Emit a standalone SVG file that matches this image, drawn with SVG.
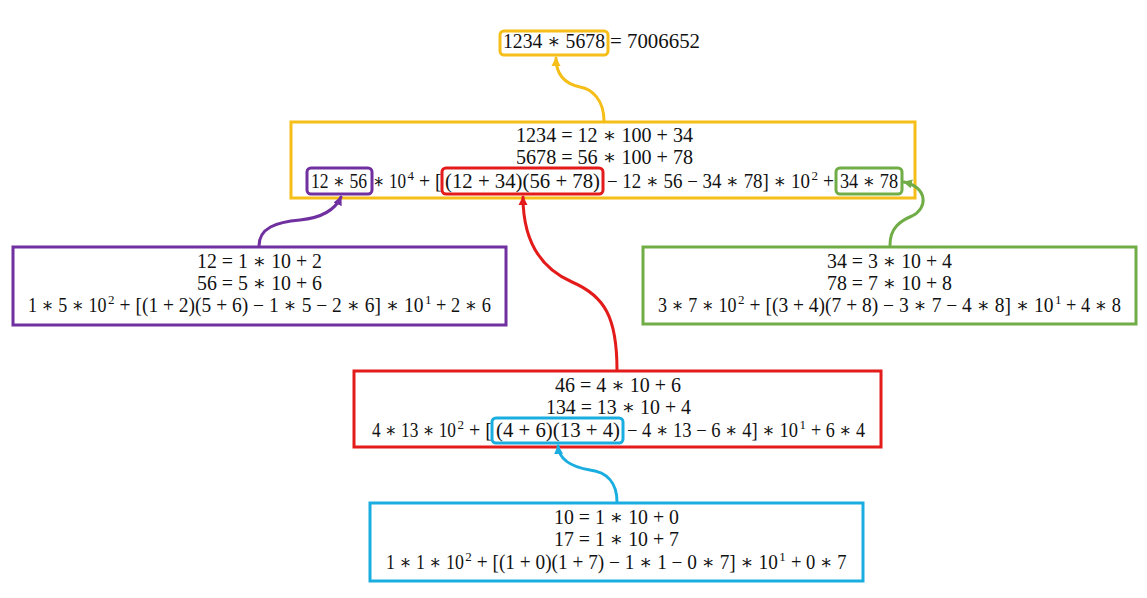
<svg xmlns="http://www.w3.org/2000/svg" width="1147" height="598" viewBox="0 0 1147 598">
<style>
text{font-family:"Liberation Serif","DejaVu Serif",serif;font-size:20px;fill:#111}
text.sup{font-size:13px}
.box{fill:none;stroke-width:3}
.hl{fill:none;stroke-width:3}
.c{fill:none;stroke-width:3;stroke-linecap:round}
.y{stroke:#F5BE18}.p{stroke:#7030A0}.g{stroke:#70AD47}.r{stroke:#E31B1B}.b{stroke:#1AAEE0}
</style>
<defs>
<marker id="ay" markerUnits="userSpaceOnUse" markerWidth="10" markerHeight="10" refX="8" refY="5" orient="auto"><path d="M0,0.5 L9,5 L0,9.5 z" fill="#F5BE18"/></marker>
<marker id="ap" markerUnits="userSpaceOnUse" markerWidth="10" markerHeight="10" refX="8" refY="5" orient="auto"><path d="M0,0.5 L9,5 L0,9.5 z" fill="#7030A0"/></marker>
<marker id="ag" markerUnits="userSpaceOnUse" markerWidth="10" markerHeight="10" refX="8" refY="5" orient="auto"><path d="M0,0.5 L9,5 L0,9.5 z" fill="#70AD47"/></marker>
<marker id="ar" markerUnits="userSpaceOnUse" markerWidth="10" markerHeight="10" refX="8" refY="5" orient="auto"><path d="M0,0.5 L9,5 L0,9.5 z" fill="#E31B1B"/></marker>
<marker id="ab" markerUnits="userSpaceOnUse" markerWidth="10" markerHeight="10" refX="8" refY="5" orient="auto"><path d="M0,0.5 L9,5 L0,9.5 z" fill="#1AAEE0"/></marker>
</defs>

<g id="result">
<text x="503" y="48" textLength="102" lengthAdjust="spacingAndGlyphs">1234 ∗ 5678</text>
<text x="610" y="48" textLength="90" lengthAdjust="spacingAndGlyphs">= 7006652</text>
<rect class="hl y" x="500" y="31" width="108" height="24" rx="4"/>
</g>

<g id="node-1234x5678">
<rect class="box y" x="291" y="122" width="624" height="76"/>
<text x="516" y="142" textLength="177" lengthAdjust="spacingAndGlyphs">1234 = 12 ∗ 100 + 34</text>
<text x="516" y="164" textLength="177" lengthAdjust="spacingAndGlyphs">5678 = 56 ∗ 100 + 78</text>
<text x="311" y="188" textLength="56" lengthAdjust="spacingAndGlyphs">12 ∗ 56</text>
<text x="373" y="188" textLength="33" lengthAdjust="spacingAndGlyphs">∗ 10</text>
<text class="sup" x="407.5" y="180" textLength="6.5" lengthAdjust="spacingAndGlyphs">4</text>
<text x="419" y="188" textLength="22.5" lengthAdjust="spacingAndGlyphs">+ [</text>
<text x="445" y="188" textLength="155" lengthAdjust="spacingAndGlyphs">(12 + 34)(56 + 78)</text>
<text x="607" y="188" textLength="203" lengthAdjust="spacingAndGlyphs">− 12 ∗ 56 − 34 ∗ 78] ∗ 10</text>
<text class="sup" x="811.5" y="180" textLength="6.5" lengthAdjust="spacingAndGlyphs">2</text>
<text x="823" y="188" textLength="11" lengthAdjust="spacingAndGlyphs">+</text>
<text x="840" y="188" textLength="58" lengthAdjust="spacingAndGlyphs">34 ∗ 78</text>
<rect class="hl p" x="307" y="168" width="65" height="26" rx="4"/>
<rect class="hl r" x="442" y="168" width="161" height="26" rx="4"/>
<rect class="hl g" x="836" y="168" width="66" height="26" rx="4"/>
</g>

<g id="node-12x56">
<rect class="box p" x="13" y="247" width="493" height="78"/>
<text x="197" y="268" textLength="125" lengthAdjust="spacingAndGlyphs">12 = 1 ∗ 10 + 2</text>
<text x="197" y="290" textLength="125" lengthAdjust="spacingAndGlyphs">56 = 5 ∗ 10 + 6</text>
<text x="28" y="312" textLength="78.5" lengthAdjust="spacingAndGlyphs">1 ∗ 5 ∗ 10</text>
<text class="sup" x="108" y="304" textLength="6.5" lengthAdjust="spacingAndGlyphs">2</text>
<text x="119.6" y="312" textLength="303.9" lengthAdjust="spacingAndGlyphs">+ [(1 + 2)(5 + 6) − 1 ∗ 5 − 2 ∗ 6] ∗ 10</text>
<text class="sup" x="425" y="304" textLength="6.5" lengthAdjust="spacingAndGlyphs">1</text>
<text x="436" y="312" textLength="55" lengthAdjust="spacingAndGlyphs">+ 2 ∗ 6</text>
</g>

<g id="node-34x78">
<rect class="box g" x="643" y="247" width="493" height="77"/>
<text x="827" y="268" textLength="125" lengthAdjust="spacingAndGlyphs">34 = 3 ∗ 10 + 4</text>
<text x="827" y="290" textLength="125" lengthAdjust="spacingAndGlyphs">78 = 7 ∗ 10 + 8</text>
<text x="658" y="312" textLength="78.5" lengthAdjust="spacingAndGlyphs">3 ∗ 7 ∗ 10</text>
<text class="sup" x="738" y="304" textLength="6.5" lengthAdjust="spacingAndGlyphs">2</text>
<text x="749.6" y="312" textLength="303.9" lengthAdjust="spacingAndGlyphs">+ [(3 + 4)(7 + 8) − 3 ∗ 7 − 4 ∗ 8] ∗ 10</text>
<text class="sup" x="1055" y="304" textLength="6.5" lengthAdjust="spacingAndGlyphs">1</text>
<text x="1066" y="312" textLength="55" lengthAdjust="spacingAndGlyphs">+ 4 ∗ 8</text>
</g>

<g id="node-46x134">
<rect class="box r" x="354" y="371" width="527" height="76"/>
<text x="555" y="392" textLength="126" lengthAdjust="spacingAndGlyphs">46 = 4 ∗ 10 + 6</text>
<text x="546" y="414" textLength="145" lengthAdjust="spacingAndGlyphs">134 = 13 ∗ 10 + 4</text>
<text x="372" y="437" textLength="84" lengthAdjust="spacingAndGlyphs">4 ∗ 13 ∗ 10</text>
<text class="sup" x="457.5" y="429" textLength="6.5" lengthAdjust="spacingAndGlyphs">2</text>
<text x="469" y="437" textLength="23" lengthAdjust="spacingAndGlyphs">+ [</text>
<text x="496" y="437" textLength="124" lengthAdjust="spacingAndGlyphs">(4 + 6)(13 + 4)</text>
<text x="627" y="437" textLength="171" lengthAdjust="spacingAndGlyphs">− 4 ∗ 13 − 6 ∗ 4] ∗ 10</text>
<text class="sup" x="799.5" y="429" textLength="6.5" lengthAdjust="spacingAndGlyphs">1</text>
<text x="811" y="437" textLength="54" lengthAdjust="spacingAndGlyphs">+ 6 ∗ 4</text>
<rect class="hl b" x="492" y="418" width="131" height="25" rx="4"/>
</g>

<g id="node-10x17">
<rect class="box b" x="370" y="503" width="493" height="78"/>
<text x="554" y="524" textLength="125" lengthAdjust="spacingAndGlyphs">10 = 1 ∗ 10 + 0</text>
<text x="554" y="546" textLength="125" lengthAdjust="spacingAndGlyphs">17 = 1 ∗ 10 + 7</text>
<text x="386" y="569" textLength="77.8" lengthAdjust="spacingAndGlyphs">1 ∗ 1 ∗ 10</text>
<text class="sup" x="465.3" y="561" textLength="6.5" lengthAdjust="spacingAndGlyphs">2</text>
<text x="476.8" y="569" textLength="301" lengthAdjust="spacingAndGlyphs">+ [(1 + 0)(1 + 7) − 1 ∗ 1 − 0 ∗ 7] ∗ 10</text>
<text class="sup" x="779.3" y="561" textLength="6.5" lengthAdjust="spacingAndGlyphs">1</text>
<text x="791" y="569" textLength="55.5" lengthAdjust="spacingAndGlyphs">+ 0 ∗ 7</text>
</g>

<g id="connectors">
<path class="c y" d="M604,121 C604,100 592,89 580,87 C566,84 556,76 556,58" marker-end="url(#ay)"/>
<path class="c p" d="M259,246 C259,228 276,222 300,220 C320,218 335,210 341,197" marker-end="url(#ap)"/>
<path class="c g" d="M890,245 C890,228 900,221 912,216 C928,208 928,188 904,182" marker-end="url(#ag)"/>
<path class="c r" d="M617,370 C617,318 605,296 572,282 C540,268 523,240 523,197" marker-end="url(#ar)"/>
<path class="c b" d="M617,502 C617,482 606,472 590,470 C572,467 559,460 558,446" marker-end="url(#ab)"/>
</g>
</svg>
